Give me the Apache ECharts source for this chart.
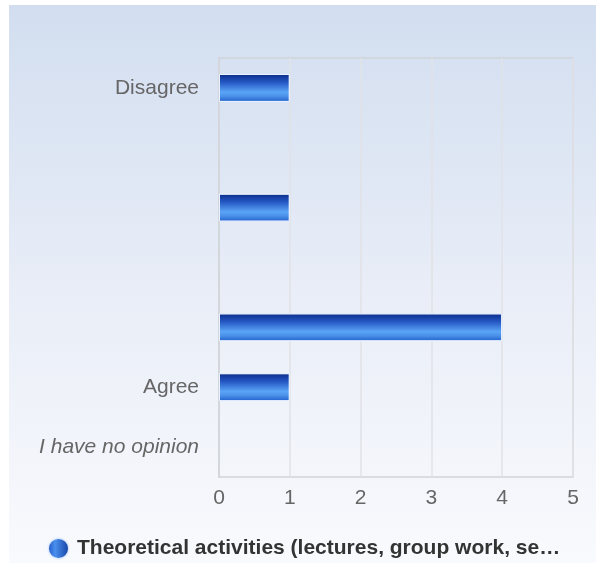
<!DOCTYPE html>
<html>
<head>
<meta charset="utf-8">
<script src="https://cdn.jsdelivr.net/npm/echarts@6/dist/echarts.min.js"></script>
<style>
html,body{margin:0;padding:0;background:#fff;}
#chart{width:596px;height:563px;}
</style>
</head>
<body>
<div id="chart"></div>
<script>
const categories = ["Disagree", "", "", "", "", "Agree", "I have no opinion"];
const values = [1, 0, 1, 0, 4, 1, 0];
const xTicks = [0, 1, 2, 3, 4, 5];
const seriesName = "Theoretical activities (lectures, group work, seminars)";

const chart = echarts.init(document.getElementById('chart'));
const barGradient = new echarts.graphic.LinearGradient(0, 0, 0, 1, [
  {offset: 0, color: '#0a2a88'},
  {offset: 0.3, color: '#2558c4'},
  {offset: 0.65, color: '#5aa4f6'},
  {offset: 0.8, color: '#4a90e8'},
  {offset: 1, color: '#1f5fcc'}
]);
const legendGradient = new echarts.graphic.LinearGradient(0, 0, 1, 0, [
  {offset: 0, color: '#1a4fc0'},
  {offset: 0.35, color: '#4a90ee'},
  {offset: 1, color: '#0f3a9e'}
]);
chart.setOption({
  animation: false,
  graphic: [{
    type: 'rect', z: -10, silent: true,
    shape: {x: 9, y: 5, width: 587, height: 558},
    style: {fill: new echarts.graphic.LinearGradient(0, 0, 0, 1, [
      {offset: 0, color: '#d2def0'},
      {offset: 0.5, color: '#e8edf7'},
      {offset: 1, color: '#f9fafd'}
    ])}
  }],
  grid: {left: 219, right: 23, top: 58, bottom: 86, show: true, borderColor: '#cfd3d8', borderWidth: 1.5, backgroundColor: 'transparent'},
  xAxis: {
    type: 'value', min: xTicks[0], max: xTicks[xTicks.length - 1], interval: 1,
    axisLine: {show: false}, axisTick: {show: false},
    splitLine: {show: true, lineStyle: {color: '#e0e2e6', width: 1.5}},
    axisLabel: {color: '#666', fontSize: 21, fontFamily: 'Liberation Sans', margin: 11}
  },
  yAxis: {
    type: 'category', data: categories, inverse: true,
    axisLine: {show: true, lineStyle: {color: '#cfd3d8', width: 1.5}}, axisTick: {show: false},
    axisLabel: {
      color: '#666', fontSize: 21, fontFamily: 'Liberation Sans', margin: 20,
      formatter: function (v) { return v === 'I have no opinion' ? '{i|' + v + '}' : v; },
      rich: {i: {fontStyle: 'italic', color: '#666', fontSize: 21, fontFamily: 'Liberation Sans'}}
    }
  },
  legend: {
    bottom: 3, left: 47, padding: 0, icon: 'circle', itemWidth: 21, itemHeight: 21, itemGap: 8,
    data: [{name: seriesName, itemStyle: {color: legendGradient}}],
    textStyle: {color: '#333', fontSize: 21, fontWeight: 'bold', fontFamily: 'Liberation Sans', width: 486, overflow: 'truncate', ellipsis: '…', padding: [0, 0, 0, 3]}
  },
  series: [{
    name: seriesName, type: 'bar', barWidth: 28,
    data: values.map(function (v) { return v === 0 ? {value: v, itemStyle: {borderWidth: 0}} : v; }),
    itemStyle: {color: barGradient, borderColor: 'rgba(235,242,255,0.9)', borderWidth: 1}
  }]
});
chart.setOption({legend: {textStyle: {width: 500}}});
</script>
</body>
</html>
